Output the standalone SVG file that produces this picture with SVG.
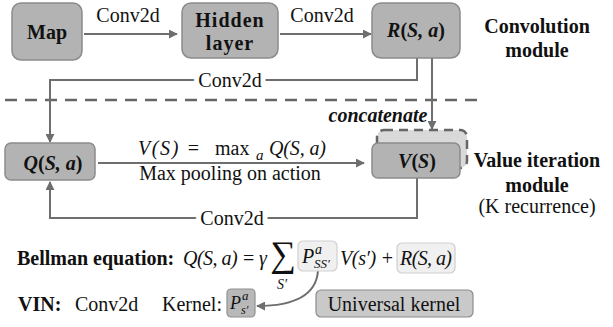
<svg xmlns="http://www.w3.org/2000/svg" width="613" height="327" viewBox="0 0 613 327">
<style>
  .box { fill:#b3b3b3; stroke:#8c8c8c; stroke-width:1.5; }
  .lbox { fill:#f0f0f0; stroke:#cfcfcf; stroke-width:1.2; }
  .kbox { fill:#b8b8b8; stroke:#909090; stroke-width:1.2; }
  .ubox { fill:#c9c9c9; stroke:#8c8c8c; stroke-width:1.2; }
  .conn { fill:none; stroke:#6e6e6e; stroke-width:2; }
  .t { font-family:"Liberation Serif", "DejaVu Serif", serif; font-size:20px; fill:#111; }
  .b { font-weight:bold; }
  .bi { font-weight:bold; font-style:italic; }
  .i { font-style:italic; }
  .mid { text-anchor:middle; }
  .halo { stroke:#fff; stroke-width:10px; paint-order:stroke; }
</style>
<defs>
  <marker id="arr" viewBox="0 0 10 10" refX="9" refY="5" markerWidth="4.5" markerHeight="4.5" orient="auto" markerUnits="strokeWidth">
    <path d="M0,0 L10,5 L0,10 Z" fill="#6e6e6e"/>
  </marker>
</defs>

<line x1="5" y1="100" x2="483" y2="100" stroke="#666" stroke-width="2.5" stroke-dasharray="12,8"/>

<g id="connectors">
  <path class="conn" d="M84,34 H177" marker-end="url(#arr)"/>
  <path class="conn" d="M280,34 H371" marker-end="url(#arr)"/>
  <path class="conn" d="M417,58 V80 H50 V142" marker-end="url(#arr)"/>
  <path class="conn" d="M432,58 V129" marker-end="url(#arr)"/>
  <path class="conn" d="M98,163 H364" marker-end="url(#arr)"/>
  <path class="conn" d="M417,178 V218 H50 V182" marker-end="url(#arr)"/>
  <path class="conn" d="M318,271 C316,296 292,306 257,306" marker-end="url(#arr)"/>
  <text class="t mid" x="128" y="22">Conv2d</text>
  <text class="t mid" x="322" y="22">Conv2d</text>
  <text class="t mid halo" x="230" y="87">Conv2d</text>
  <text class="t mid halo" x="232" y="225">Conv2d</text>
  <text class="t i" x="138" y="155" textLength="62" lengthAdjust="spacing">V(S) =</text>
  <text class="t" x="215" y="155">max</text>
  <text class="t i" x="256" y="160" style="font-size:15px">a</text>
  <text class="t i" x="269" y="155" textLength="57" lengthAdjust="spacing">Q(S, a)</text>
  <text class="t mid" x="230" y="180">Max pooling on action</text>
  <text class="t bi mid" x="378" y="122">concatenate</text>
</g>

<g id="map">
  <rect class="box" x="12" y="3" width="70" height="57" rx="9"/>
  <text class="t b mid" x="47" y="39">Map</text>
</g>
<g id="hidden">
  <rect class="box" x="182" y="3" width="96" height="55" rx="9"/>
  <text class="t b mid" x="230" y="27" letter-spacing="1">Hidden</text>
  <text class="t b mid" x="230" y="50" letter-spacing="1">layer</text>
</g>
<g id="r">
  <rect class="box" x="372" y="3" width="88" height="55" rx="9"/>
  <text class="t bi mid" x="416" y="37">R<tspan font-style="normal">(</tspan>S, a<tspan font-style="normal">)</tspan></text>
</g>
<g id="conv-module">
  <text class="t b mid" x="537" y="33">Convolution</text>
  <text class="t b mid" x="537" y="57">module</text>
</g>
<g id="q">
  <rect class="box" x="5" y="143" width="90" height="37" rx="6"/>
  <text class="t bi mid" x="53" y="170">Q<tspan font-style="normal">(</tspan>S, a<tspan font-style="normal">)</tspan></text>
</g>
<g id="v">
  <rect x="377" y="130" width="90" height="38" rx="7" fill="#d9d9d9" stroke="#666" stroke-width="2.5" stroke-dasharray="9,6"/>
  <rect class="box" x="372" y="143" width="88" height="35" rx="6"/>
  <text class="t bi mid" x="417" y="168">V<tspan font-style="normal">(</tspan>S<tspan font-style="normal">)</tspan></text>
</g>
<g id="vi-module">
  <text class="t b mid" x="537" y="167">Value iteration</text>
  <text class="t b mid" x="537" y="192">module</text>
  <text class="t mid" x="537" y="213">(K recurrence)</text>
</g>

<g id="bellman">
  <text class="t b" x="17" y="265">Bellman equation:</text>
  <text class="t i" x="183" y="265" textLength="84" lengthAdjust="spacing">Q(S, a) = γ</text>
  <text class="t mid" x="283" y="266" style="font-size:36px">∑</text>
  <text class="t i mid" x="282" y="289" style="font-size:14px">S′</text>
  <rect class="lbox" x="298" y="241" width="39" height="30" rx="5"/>
  <text class="t i" x="302" y="263">P</text>
  <text class="t i" x="315" y="254" style="font-size:14px">a</text>
  <text class="t i" x="314" y="268" style="font-size:13px">SS′</text>
  <text class="t i" x="340" y="265" textLength="54" lengthAdjust="spacing">V(s′) +</text>
  <rect class="lbox" x="397" y="243" width="58" height="30" rx="5"/>
  <text class="t i" x="400" y="265" textLength="52" lengthAdjust="spacing">R(S, a)</text>
</g>

<g id="vin">
  <text class="t b" x="18" y="311">VIN:</text>
  <text class="t" x="75" y="311">Conv2d</text>
  <text class="t" x="162" y="311">Kernel:</text>
  <rect class="kbox" x="227" y="289" width="28" height="28" rx="4"/>
  <text class="t i" x="230" y="309" style="font-size:18px">P</text>
  <text class="t i" x="242" y="300" style="font-size:13px">a</text>
  <text class="t i" x="241" y="314" style="font-size:12px">s′</text>
</g>
<g id="universal">
  <rect class="ubox" x="316" y="290" width="157" height="27" rx="5"/>
  <text class="t mid" x="394" y="311">Universal kernel</text>
</g>
</svg>
